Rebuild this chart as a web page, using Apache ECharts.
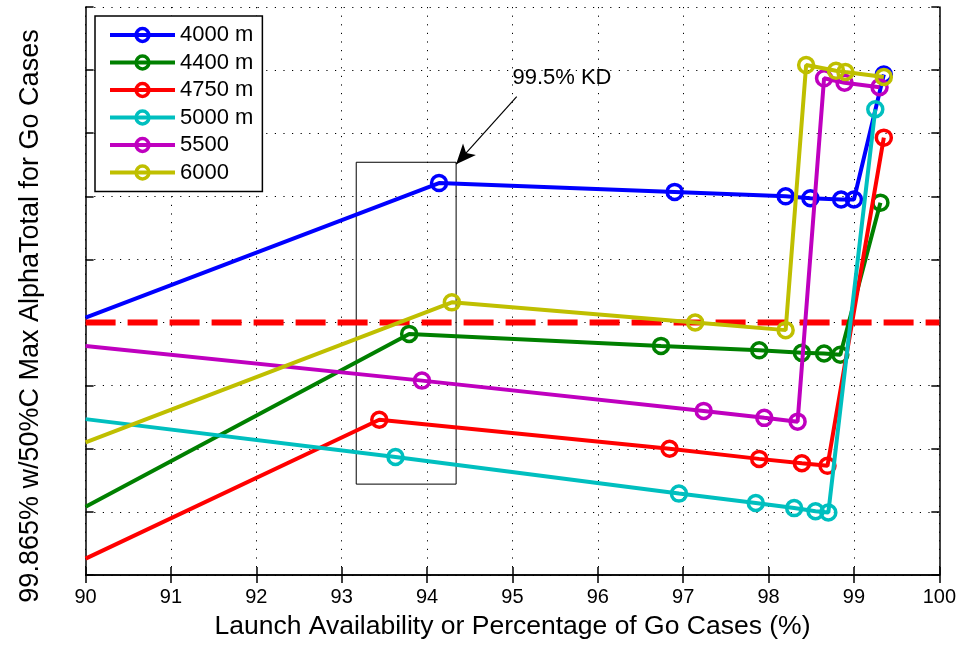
<!DOCTYPE html>
<html><head><meta charset="utf-8">
<script src="https://cdn.jsdelivr.net/npm/echarts@6/dist/echarts.min.js"></script>
<style>html,body{margin:0;padding:0;background:#fff}#c{width:959px;height:645px}</style>
</head><body><div id="c"></div>
<script>
// ---- data ----
const seriesNames = ['4000 m', '4400 m', '4750 m', '5000 m', '5500', '6000'];
const x4000 = [90, 94.14, 96.90, 98.20, 98.49, 98.85, 99.00, 99.35];
const y4000 = [4.08, 6.21, 6.07, 6.00, 5.97, 5.95, 5.95, 7.93];
const x4400 = [90, 93.79, 96.74, 97.89, 98.39, 98.65, 98.84, 99.31];
const y4400 = [1.08, 3.82, 3.63, 3.56, 3.52, 3.51, 3.49, 5.90];
const x4750 = [90, 93.44, 96.84, 97.89, 98.39, 98.69, 99.35];
const y4750 = [0.26, 2.46, 2.00, 1.84, 1.77, 1.73, 6.93];
const x5000 = [90, 93.63, 96.95, 97.85, 98.30, 98.55, 98.70, 99.25];
const y5000 = [2.47, 1.87, 1.29, 1.14, 1.06, 1.01, 0.99, 7.38];
const x5500 = [90, 93.94, 97.24, 97.95, 98.34, 98.65, 98.89, 99.30];
const y5500 = [3.63, 3.08, 2.60, 2.49, 2.43, 7.87, 7.80, 7.73];
const x6000 = [90, 94.29, 97.14, 98.20, 98.44, 98.79, 98.90, 99.35];
const y6000 = [2.10, 4.32, 4.00, 3.88, 8.08, 7.99, 7.97, 7.89];
const refLevel = 4;
const xTicks = [90, 91, 92, 93, 94, 95, 96, 97, 98, 99, 100];
const annText = '99.5% KD';
const annBox = [[93.17, 6.54], [94.34, 1.44]];
const annArrow = [[95.05, 7.58], [94.34, 6.51]];
const annTextAt = [95.0, 7.88];

// ---- chart ----
const colors = ['#0000ff', '#008000', '#ff0000', '#00bfbf', '#bf00bf', '#bfbf00'];
const xs = [x4000, x4400, x4750, x5000, x5500, x6000];
const ys = [y4000, y4400, y4750, y5000, y5500, y6000];
const FONT = 'Liberation Sans, Arial, Helvetica, sans-serif';

function pts(xa, ya) {
  return xa.map((x, i) => i === 0 ? { value: [x, ya[i]], symbol: 'none' } : [x, ya[i]]);
}

const series = [];
series.push({
  type: 'line', name: 'ref', data: [[xTicks[0], refLevel], [xTicks[xTicks.length - 1], refLevel]],
  symbol: 'none', silent: true, z: 2,
  lineStyle: { color: '#ff0000', width: 6, type: [30, 12] }
});
seriesNames.forEach((n, k) => {
  const s = {
    type: 'line', name: n, data: pts(xs[k], ys[k]),
    symbol: 'circle', symbolSize: 15, z: 3 + k,
    lineStyle: { color: colors[k], width: 4 },
    itemStyle: { color: 'rgba(255,255,255,0)', borderColor: colors[k], borderWidth: 3.5 },
    emphasis: { disabled: true }
  };
  if (k === 0) {
    s.markArea = {
      silent: true,
      itemStyle: { color: 'rgba(0,0,0,0)', borderColor: '#000', borderWidth: 1 },
      data: [[{ coord: annBox[0] }, { coord: annBox[1] }]]
    };
    s.markLine = {
      silent: true, symbol: ['none', 'arrow'], symbolSize: [13, 20],
      lineStyle: { color: '#000', width: 1.2, type: 'solid' },
      label: { show: false },
      data: [[{ coord: annArrow[0] }, { coord: annArrow[1] }]]
    };
    s.markPoint = {
      silent: true, symbol: 'circle', symbolSize: 0,
      label: { show: true, position: 'right', distance: 0, formatter: annText, color: '#000', fontSize: 22, fontFamily: FONT },
      data: [{ coord: annTextAt }]
    };
  }
  series.push(s);
});

const axisLine = { show: true, lineStyle: { color: '#000', width: 1.5 } };
const split = { show: true, lineStyle: { color: '#000', width: 1, type: [1.2, 7.4] } };
const tick = { show: true, inside: true, length: 8, lineStyle: { color: '#000', width: 1.5 } };

const option = {
  animation: false,
  backgroundColor: '#fff',
  textStyle: { fontFamily: FONT },
  grid: { left: 85.6, right: 17.4, top: 7, bottom: 61, containLabel: false },
  legend: {
    data: seriesNames, orient: 'vertical', left: 95, top: 16,
    itemWidth: 65, itemHeight: 16, itemGap: 5.5,
    padding: [8, 9, 8, 13],
    backgroundColor: '#fff', borderColor: '#000', borderWidth: 1.5,
    lineStyle: { width: 4 },
    itemStyle: { borderWidth: 3.5 },
    textStyle: { fontSize: 22, color: '#000', fontFamily: FONT, lineHeight: 22 },
    selectedMode: false
  },
  xAxis: [{
    type: 'value', min: 90, max: 100, interval: 1, position: 'bottom',
    axisLine: axisLine, axisTick: tick, splitLine: split,
    axisLabel: { fontSize: 20, color: '#000', margin: 12, fontFamily: FONT },
    name: 'Launch Availability or Percentage of Go Cases (%)',
    nameLocation: 'middle', nameGap: 38,
    nameTextStyle: { fontSize: 26.5, color: '#000', fontFamily: FONT }
  }, {
    type: 'value', min: 90, max: 100, interval: 1, position: 'top',
    axisLine: axisLine, axisTick: tick, splitLine: { show: false }, axisLabel: { show: false }
  }],
  yAxis: [{
    type: 'value', min: 0, max: 9, interval: 1, position: 'left',
    axisLine: axisLine, axisTick: tick, splitLine: split, axisLabel: { show: false },
    name: '99.865% w/50%C Max AlphaTotal for Go Cases',
    nameLocation: 'middle', nameGap: 42, nameRotate: 90,
    nameTextStyle: { fontSize: 27, color: '#000', fontFamily: FONT, padding: [0, 50, 0, 0] }
  }, {
    type: 'value', min: 0, max: 9, interval: 1, position: 'right',
    axisLine: axisLine, axisTick: tick, splitLine: { show: false }, axisLabel: { show: false }
  }],
  series: series
};
const chart = echarts.init(document.getElementById('c'));
chart.setOption(option);
</script>
</body></html>
